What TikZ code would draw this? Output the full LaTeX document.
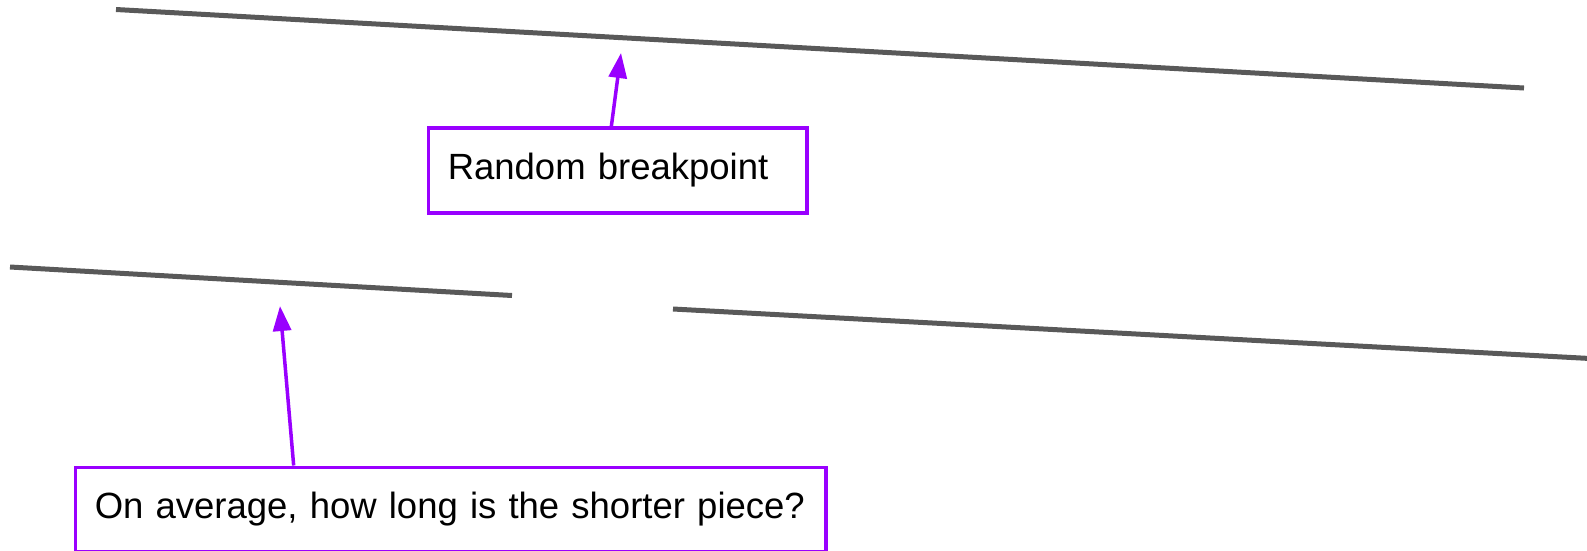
\documentclass[tikz,border=0pt]{standalone}
\usepackage{fontspec}
\setmainfont{Liberation Sans}
\usetikzlibrary{arrows.meta,calc}
\definecolor{vio}{HTML}{9900FF}
\definecolor{stick}{HTML}{595959}
\tikzset{
  stickline/.style={draw=stick,line width=5pt},
  labelbox/.style={draw=vio,line width=3.5pt,rectangle,align=left,inner xsep=19.5pt,inner ysep=0pt,
    font=\fontsize{36.5}{44}\selectfont,anchor=north west},
  pointer/.style={draw=vio,line width=3.5pt,-{Triangle[length=25pt,width=18pt]}}
}
\begin{document}
\begin{tikzpicture}[x=1pt,y=-1pt]
\useasboundingbox (0,0) rectangle (1587,550);
% sticks
\draw[stickline] (116,9.5) -- (1524,88);
\draw[stickline] (10,267) -- (512,295.5);
\draw[stickline] (673,309) -- (1590,358.5);
% boxes
\node[labelbox,text width=339.5pt,minimum height=85pt] (b1) at (426.5,126) {\mbox{Random breakpoint}};
\node[labelbox,text width=711.5pt,minimum height=84pt] (b2) at (73.5,465.5) {\mbox{On average, how long is the shorter piece?}};
% tips
\coordinate (t1) at (621,53);
\coordinate (t2) at (280,306);
\draw[pointer] ($(b1.north west)!0.484!(b1.north east)$) -- (t1);
\draw[pointer] ($(b2.north west)!0.292!(b2.north east)$) -- (t2);
\end{tikzpicture}
\end{document}
